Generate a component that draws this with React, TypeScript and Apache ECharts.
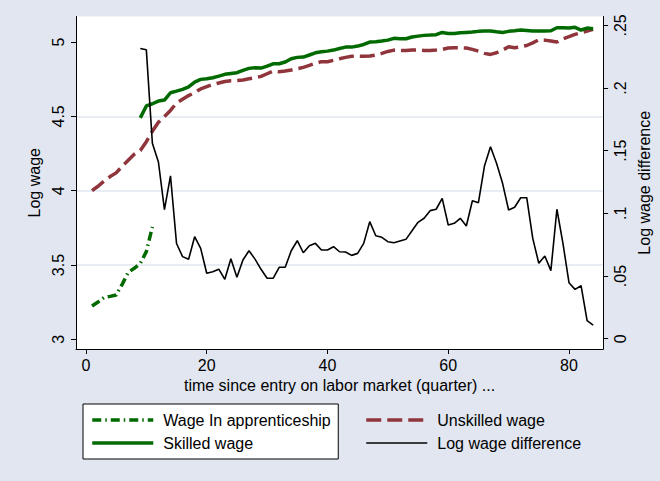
import React, { useEffect, useRef } from "react";
import * as echarts from "echarts";

// quarters since labor market entry
const quarters = [
  1, 2, 3, 4, 5, 6, 7, 8, 9, 10, 11, 12, 13, 14, 15, 16, 17, 18, 19, 20,
  21, 22, 23, 24, 25, 26, 27, 28, 29, 30, 31, 32, 33, 34, 35, 36, 37, 38, 39, 40,
  41, 42, 43, 44, 45, 46, 47, 48, 49, 50, 51, 52, 53, 54, 55, 56, 57, 58, 59, 60,
  61, 62, 63, 64, 65, 66, 67, 68, 69, 70, 71, 72, 73, 74, 75, 76, 77, 78, 79, 80,
  81, 82, 83, 84,
];

// Wage in apprenticeship (quarters 1-11)
const apprenticeWage = [3.224, 3.251, 3.282, 3.289, 3.298, 3.37, 3.451, 3.478, 3.511, 3.59, 3.757];

// Unskilled wage (quarters 1-84)
const unskilledWage = [
  4.0, 4.03, 4.065, 4.095, 4.12, 4.165, 4.205, 4.245, 4.27, 4.33,
  4.4, 4.46, 4.5, 4.54, 4.59, 4.615, 4.64, 4.66, 4.685, 4.7,
  4.715, 4.725, 4.735, 4.74, 4.742, 4.745, 4.753, 4.76, 4.769, 4.787,
  4.805, 4.8, 4.805, 4.812, 4.821, 4.83, 4.843, 4.857, 4.868, 4.868,
  4.877, 4.888, 4.897, 4.904, 4.906, 4.904, 4.906, 4.913, 4.924, 4.937,
  4.946, 4.944, 4.944, 4.946, 4.948, 4.944, 4.944, 4.946, 4.951, 4.96,
  4.962, 4.962, 4.96, 4.951, 4.939, 4.924, 4.917, 4.928, 4.946, 4.968,
  4.962, 4.968, 4.977, 4.995, 5.015, 5.013, 5.007, 5.0, 5.022, 5.036,
  5.052, 5.063, 5.074, 5.085,
];

// Skilled wage (quarters 9-84)
const skilledStart = 9;
const skilledWage = [
  4.49, 4.57, 4.585, 4.603, 4.61, 4.659, 4.67, 4.682, 4.699, 4.731,
  4.749, 4.753, 4.76, 4.771, 4.783, 4.789, 4.794, 4.81, 4.823, 4.827,
  4.825, 4.838, 4.854, 4.854, 4.866, 4.888, 4.897, 4.899, 4.913, 4.928,
  4.935, 4.939, 4.946, 4.957, 4.966, 4.966, 4.973, 4.984, 5.0, 5.002,
  5.007, 5.013, 5.025, 5.022, 5.022, 5.034, 5.04, 5.045, 5.047, 5.05,
  5.065, 5.058, 5.058, 5.063, 5.065, 5.067, 5.072, 5.074, 5.074, 5.069,
  5.065, 5.072, 5.076, 5.081, 5.078, 5.074, 5.074, 5.074, 5.076, 5.096,
  5.096, 5.094, 5.099, 5.081, 5.094, 5.09,
];

// Log wage difference (quarters 9-84)
const diffStart = 9;
const logWageDiff = [
  0.2315, 0.2305, 0.156, 0.141, 0.103, 0.13, 0.076, 0.0655, 0.0634, 0.0814,
  0.0721, 0.0522, 0.0535, 0.0555, 0.0474, 0.0638, 0.049, 0.0628, 0.0702, 0.0635,
  0.0554, 0.0482, 0.0482, 0.057, 0.057, 0.0702, 0.0782, 0.0686, 0.0742, 0.0761,
  0.0708, 0.0708, 0.0734, 0.0694, 0.0692, 0.0665, 0.0681, 0.0761, 0.0934, 0.0822,
  0.0809, 0.0774, 0.0766, 0.078, 0.0793, 0.0862, 0.0929, 0.0961, 0.1022, 0.1033,
  0.112, 0.0907, 0.0921, 0.0961, 0.0899, 0.1101, 0.1085, 0.1378, 0.1532, 0.14,
  0.124, 0.1027, 0.1049, 0.1125, 0.1125, 0.0801, 0.0602, 0.066, 0.0543, 0.1033,
  0.0761, 0.0447, 0.0394, 0.0423, 0.0144, 0.0109,
];

const xTicks = [0, 20, 40, 60, 80];
const leftTicks = [3, 3.5, 4, 4.5, 5];
const rightTicks = [0, 0.05, 0.1, 0.15, 0.2, 0.25];

const seriesNames = ["Wage In apprenticeship", "Unskilled wage", "Skilled wage", "Log wage difference"];

const FONT = "'Liberation Sans', Arial, sans-serif";
const GREEN = "#006a00";
const MAROON = "#90353b";
const BG = "#e1e6f0";
const THICK = 3.5;
const THIN = 1.6;

function pairs(values: number[], start: number) {
  const startIdx = quarters.indexOf(start);
  return values.map((v, i) => [quarters[startIdx + i], v]);
}

export default function App() {
  const ref = useRef<HTMLDivElement>(null);
  useEffect(() => {
    if (!ref.current) return;
    const chart = echarts.init(ref.current, undefined, { renderer: "svg" });
    const txt = { color: "#000", fontSize: 16, fontFamily: FONT };
    const legendBase = {
      orient: "vertical",
      top: 404,
      itemWidth: 61,
      itemHeight: 10,
      itemGap: 7,
      selectedMode: false,
      itemStyle: { opacity: 0 },
      textStyle: { ...txt, padding: [0, 0, 0, 5] },
    };
    chart.setOption({
      animation: false,
      backgroundColor: BG,
      textStyle: { fontFamily: FONT },
      grid: {
        left: 76,
        right: 55,
        top: 16.5,
        bottom: 132,
        show: true,
        backgroundColor: "#fff",
        borderWidth: 0,
      },
      legend: [
        {
          ...legendBase,
          left: 83,
          padding: [8, 7.5, 8, 7.5],
          backgroundColor: "#fff",
          borderColor: "#000",
          borderWidth: 1,
          data: [
            { name: seriesNames[0], lineStyle: { width: THICK } },
            { name: seriesNames[2], lineStyle: { width: THICK } },
          ],
          textStyle: { ...legendBase.textStyle, width: 429 },
        },
        {
          ...legendBase,
          left: 364.5,
          padding: [8, 0, 8, 0],
          z: 10,
          data: [
            { name: seriesNames[1], lineStyle: { width: THICK } },
            { name: seriesNames[3], lineStyle: { width: THIN } },
          ],
        },
      ],
      xAxis: {
        type: "value",
        min: -1.65,
        max: 85.65,
        name: "time since entry on labor market (quarter) ...",
        nameLocation: "middle",
        nameGap: 28,
        nameTextStyle: txt,
        axisLine: { show: true, onZero: false, lineStyle: { color: "#000", width: 1 } },
        axisTick: { show: true, length: 5, customValues: xTicks, lineStyle: { color: "#000" } },
        axisLabel: { ...txt, margin: 8, customValues: xTicks },
        splitLine: { show: false },
      },
      yAxis: [
        {
          type: "value",
          position: "left",
          min: 2.935,
          max: 5.172,
          name: "Log wage",
          nameLocation: "middle",
          nameRotate: 90,
          nameGap: 31,
          nameTextStyle: txt,
          axisLine: { show: true, onZero: false, lineStyle: { color: "#000", width: 1 } },
          axisTick: { show: true, length: 5, customValues: leftTicks, lineStyle: { color: "#000" } },
          axisLabel: {
            ...txt,
            rotate: 90,
            margin: 10,
            customValues: leftTicks,
            formatter: (v: number) => String(parseFloat(v.toFixed(2))),
          },
          splitLine: {
            show: true,
            showMinLine: false,
            showMaxLine: false,
            lineStyle: { color: BG, width: 1.5 },
          },
        },
        {
          type: "value",
          position: "right",
          min: -0.0082,
          max: 0.2571,
          name: "Log wage difference",
          nameLocation: "middle",
          nameRotate: 90,
          nameGap: 27,
          nameTextStyle: txt,
          axisLine: { show: true, onZero: false, lineStyle: { color: "#000", width: 1 } },
          axisTick: { show: true, length: 5, customValues: rightTicks, lineStyle: { color: "#000" } },
          axisLabel: {
            ...txt,
            rotate: 90,
            margin: 9,
            customValues: rightTicks,
            formatter: (v: number) => {
              const s = String(parseFloat(v.toFixed(3)));
              return s === "0" ? "0" : s.replace(/^0/, "");
            },
          },
          splitLine: { show: false },
        },
      ],
      series: [
        {
          name: seriesNames[0],
          type: "line",
          symbol: "none",
          data: pairs(apprenticeWage, 1),
          lineStyle: { color: GREEN, width: THICK, type: [9, 4, 1.5, 4], cap: "butt" },
          itemStyle: { color: GREEN },
          z: 2,
        },
        {
          name: seriesNames[1],
          type: "line",
          symbol: "none",
          data: pairs(unskilledWage, 1),
          lineStyle: { color: MAROON, width: THICK, type: [15, 6], cap: "butt" },
          itemStyle: { color: MAROON },
          z: 3,
        },
        {
          name: seriesNames[2],
          type: "line",
          symbol: "none",
          data: pairs(skilledWage, skilledStart),
          lineStyle: { color: GREEN, width: THICK },
          itemStyle: { color: GREEN },
          z: 4,
        },
        {
          name: seriesNames[3],
          type: "line",
          symbol: "none",
          yAxisIndex: 1,
          data: pairs(logWageDiff, diffStart),
          lineStyle: { color: "#000", width: THIN },
          itemStyle: { color: "#000" },
          z: 5,
        },
      ],
    });
    return () => chart.dispose();
  }, []);
  return (
    <div
      ref={ref}
      style={{ position: "absolute", left: 0, top: 0, width: 660, height: 481 }}
    />
  );
}
